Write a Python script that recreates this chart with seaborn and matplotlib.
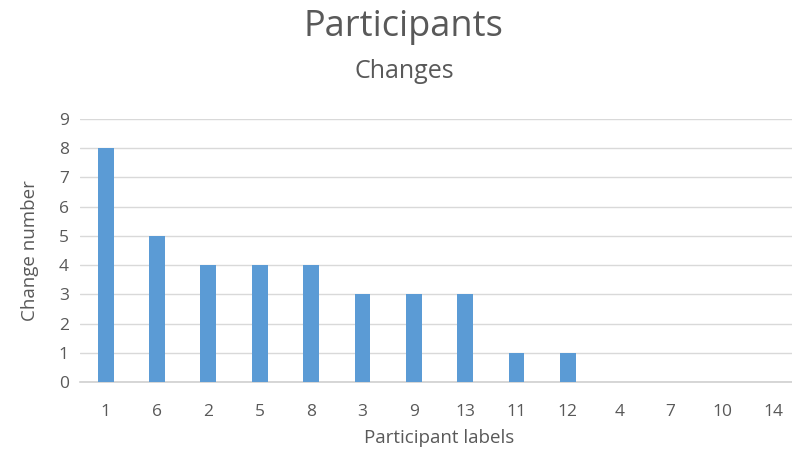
import pandas as pd
import seaborn as sns
import matplotlib.pyplot as plt

# Data
participants = ['1', '6', '2', '5', '8', '3', '9', '13', '11', '12', '4', '7', '10', '14']
changes = [8, 5, 4, 4, 4, 3, 3, 3, 1, 1, 0, 0, 0, 0]

df = pd.DataFrame({'Participant': participants, 'Changes': changes})

sns.set_theme(style='white')
plt.rcParams['font.family'] = ['Open Sans', 'DejaVu Sans']
text_color = '#595959'

fig = plt.figure(figsize=(7.92, 4.57), dpi=100)
ax = fig.add_axes([80 / 792, 1 - 382 / 457, 719 / 792, 263 / 457])

sns.barplot(data=df, x='Participant', y='Changes', color='#5B9BD5',
            width=0.31, saturation=1, linewidth=0, ax=ax, zorder=3)

ax.set_ylim(0, 9)
ax.set_yticks(range(0, 10))
ax.set_xlim(-0.5, len(participants) - 0.5)
ax.yaxis.grid(True, color='#D9D9D9', linewidth=1, zorder=0)

for side in ['top', 'right', 'left']:
    ax.spines[side].set_visible(False)
ax.spines['bottom'].set_color('#D0D0D0')
ax.spines['bottom'].set_linewidth(1.2)

ax.tick_params(axis='both', length=0, labelsize=12.5, labelcolor=text_color)
ax.tick_params(axis='x', pad=16)
ax.tick_params(axis='y', pad=8)

ax.set_xlabel('Participant labels', fontsize=13.5, color=text_color, labelpad=6)
ax.set_ylabel('Change number', fontsize=13.5, color=text_color, labelpad=14)

fig.text(0.51, 0.94, 'Participants', ha='center', va='center', fontsize=26, color=text_color)
fig.text(0.51, 0.843, 'Changes', ha='center', va='center', fontsize=18, color=text_color)

fig.savefig('out.png', dpi=100)
